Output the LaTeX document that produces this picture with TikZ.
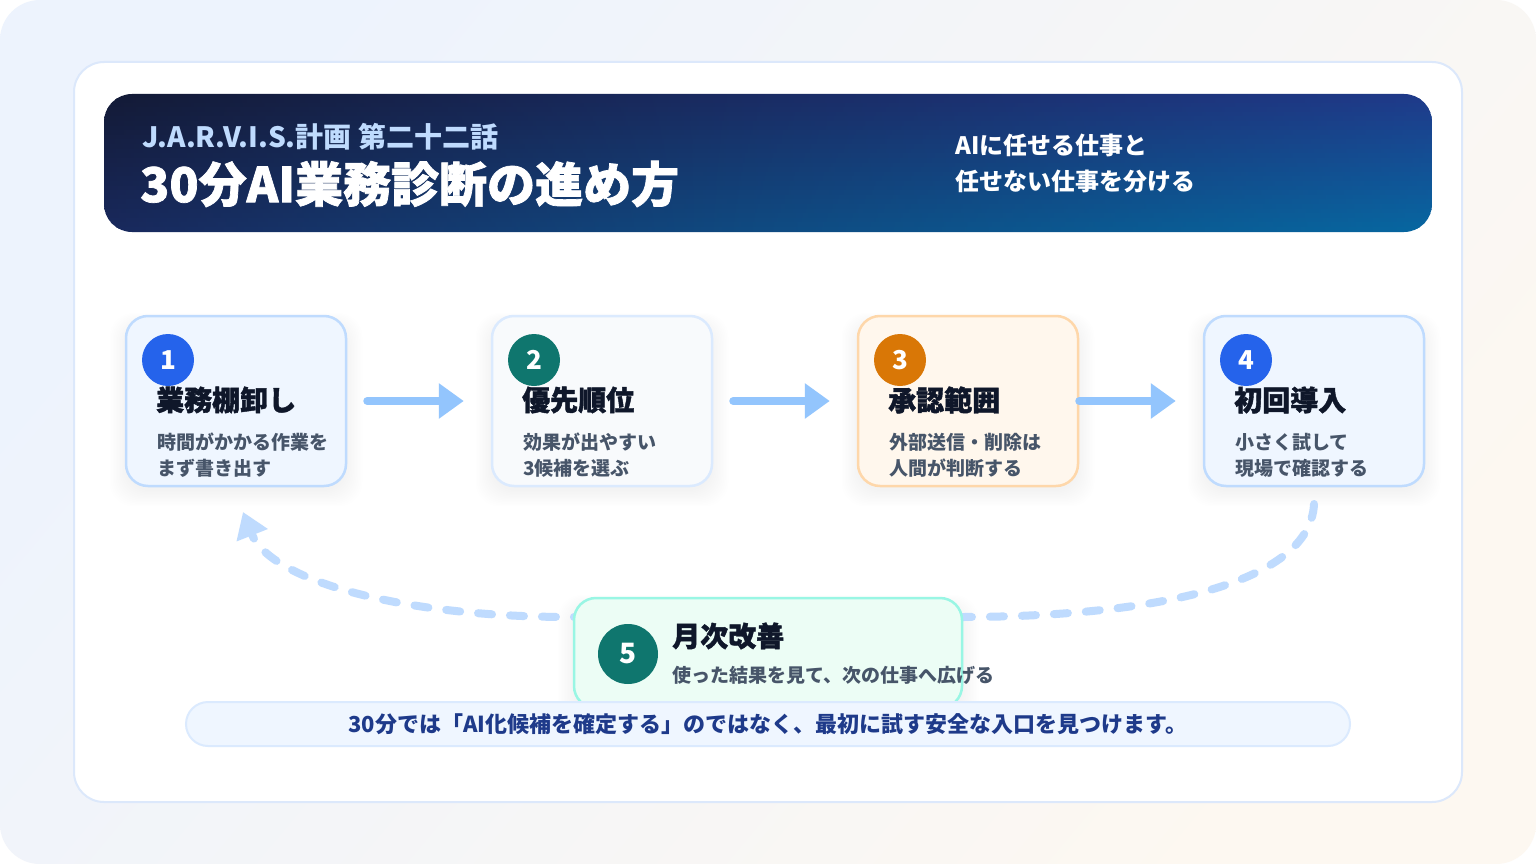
\documentclass[tikz,border=0pt]{standalone}
\usepackage{fontspec}
\setmainfont{Noto Sans CJK JP}
\newfontfamily\heavyfont{Noto Sans CJK JP}[FakeBold=1.5]
\usetikzlibrary{arrows.meta}
\definecolor{bgA}{HTML}{EDF3FD}
\definecolor{bgB}{HTML}{FDF8F1}
\definecolor{cardline}{HTML}{DCE8FB}
\definecolor{hdrA}{HTML}{131A36}
\definecolor{hdrB}{HTML}{1F3A8A}
\definecolor{hdrC}{HTML}{0766A0}
\definecolor{subc}{HTML}{BFDBFE}
\definecolor{fillA}{HTML}{EFF6FF}
\definecolor{lineA}{HTML}{BFDBFE}
\definecolor{fillB}{HTML}{F8FAFC}
\definecolor{lineB}{HTML}{DBEAFE}
\definecolor{fillC}{HTML}{FFF7ED}
\definecolor{lineC}{HTML}{FED7AA}
\definecolor{fillE}{HTML}{ECFDF5}
\definecolor{lineE}{HTML}{99F6E4}
\definecolor{numBlue}{HTML}{2563EB}
\definecolor{numTeal}{HTML}{0F766E}
\definecolor{numOrange}{HTML}{D97706}
\definecolor{ttlc}{HTML}{0F172A}
\definecolor{dscc}{HTML}{475569}
\definecolor{arrc}{HTML}{93C5FD}
\definecolor{dashc}{HTML}{BFDBFE}
\definecolor{banc}{HTML}{1E3A8A}
\begin{document}
\begin{tikzpicture}[x=1pt,y=-1pt,
  stepbox/.style={draw, line width=2.5pt, rounded corners=22pt, minimum width=220pt, minimum height=170pt, inner sep=0pt},
  numc/.style={circle, minimum size=52pt, inner sep=0pt, text=white, font=\fontsize{26}{26}\selectfont\bfseries},
  ttl/.style={anchor=west, inner sep=0pt, text=ttlc, font=\fontsize{28}{30}\selectfont\heavyfont\bfseries},
  dsc/.style={anchor=west, inner sep=0pt, text=dscc, font=\fontsize{19}{22}\selectfont\bfseries},
  flow/.style={draw=arrc, line width=8pt, line cap=round, -{Triangle[length=25pt,width=34pt]}},
  backflow/.style={draw=dashc, line width=8pt, line cap=round, dash pattern=on 14pt off 18pt, -{Triangle[length=25pt,width=32pt]}},
]
\useasboundingbox (0,0) rectangle (1536,864);
\fill[white] (0,0) rectangle (1536,864);
\shade[rounded corners=40pt, top color=bgA, bottom color=bgB, shading angle=50] (0,0) rectangle (1536,864);
% card
\node[draw=cardline, fill=white, line width=2pt, rounded corners=30pt, minimum width=1388pt, minimum height=740pt] (card) at (768,432) {};
% header background: rows of horizontal gradients
\begin{scope}
  \clip[rounded corners=28pt] (104,94) rectangle (1432,232);
  \foreach \i in {0,...,29}{
    \pgfmathtruncatemacro\p{round(\i*100/29)}
    \pgfmathtruncatemacro\q{round(\i*45/29)}
    \colorlet{rowL}{hdrB!\q!hdrA}
    \colorlet{rowR}{hdrC!\p!hdrB}
    \shade[left color=rowL, right color=rowR, middle color=rowL!45!rowR] (104,94+\i*4.6) rectangle (1432,94+\i*4.6+5.2);
  }
\end{scope}
\node[rounded corners=28pt, minimum width=1328pt, minimum height=138pt] (header) at (768,163) {};
\node[anchor=west, inner sep=0pt, text=subc, font=\fontsize{28}{30}\selectfont\bfseries] (sub) at (142,137) {J.A.R.V.I.S.計画 第二十二話};
\node[anchor=west, inner sep=0pt, text=white, font=\fontsize{48}{50}\selectfont\heavyfont\bfseries] (title) at (140,184) {30分AI業務診断の進め方};
\node[anchor=west, inner sep=0pt, text=white, font=\fontsize{24}{26}\selectfont\bfseries] (tagA) at (955,145) {AIに任せる仕事と};
\node[anchor=west, inner sep=0pt, text=white, font=\fontsize{24}{26}\selectfont\bfseries] (tagB) at (955,181) {任せない仕事を分ける};
% shadows
\foreach \cx in {236,602,968,1314}{
  \foreach \k in {0,...,11}{
    \fill[black, opacity=0.005, rounded corners=24pt] (\cx-110-\k*1.5, 401-85+8-\k) rectangle (\cx+110+\k*1.5, 401+85+5+\k*1.4);
  }
}
\foreach \k in {0,...,11}{
  \fill[black, opacity=0.005, rounded corners=24pt] (574-\k*1.5, 598+8-\k) rectangle (962+\k*1.5, 708+5+\k*1.4);
}
% steps
\node[stepbox, fill=fillA, draw=lineA] (s1) at (236,401) {};
\node[stepbox, fill=fillB, draw=lineB] (s2) at (602,401) {};
\node[stepbox, fill=fillC, draw=lineC] (s3) at (968,401) {};
\node[stepbox, fill=fillA, draw=lineA] (s4) at (1314,401) {};
\node[numc, fill=numBlue] (n1) at (168,360) {1};
\node[numc, fill=numTeal] (n2) at (534,360) {2};
\node[numc, fill=numOrange] (n3) at (900,360) {3};
\node[numc, fill=numBlue] (n4) at (1246,360) {4};
\node[ttl] (t1) at (156,400) {業務棚卸し};
\node[ttl] (t2) at (522,400) {優先順位};
\node[ttl] (t3) at (888,400) {承認範囲};
\node[ttl] (t4) at (1234,400) {初回導入};
\node[dsc] (d1a) at (157,442) {時間がかかる作業を};
\node[dsc] (d1b) at (157,468) {まず書き出す};
\node[dsc] (d2a) at (523,442) {効果が出やすい};
\node[dsc] (d2b) at (523,468) {3候補を選ぶ};
\node[dsc] (d3a) at (889,442) {外部送信・削除は};
\node[dsc] (d3b) at (889,468) {人間が判断する};
\node[dsc] (d4a) at (1235,442) {小さく試して};
\node[dsc] (d4b) at (1235,468) {現場で確認する};
% arrows
\draw[flow, shorten <=20pt, shorten >=27pt] (s1.east) -- (s2.west);
\draw[flow, shorten <=20pt, shorten >=27pt] (s2.east) -- (s3.west);
\draw[flow, shorten <=0pt, shorten >=27pt] (s3.east) -- (s4.west);
% back loop
\coordinate (ls) at (1314,504);
\coordinate (le) at (243,512);
\draw[backflow] (ls) .. controls (1310,585) and (1150,617) .. (960,617) -- (570,617) .. controls (400,617) and (270,580) .. (le);
% step 5
\node[draw=lineE, fill=fillE, line width=2.5pt, rounded corners=22pt, minimum width=388pt, minimum height=110pt] (s5) at (768,653) {};
\node[numc, fill=numTeal, minimum size=60pt, font=\fontsize{28}{28}\selectfont\bfseries] (n5) at (628,654) {5};
\node[ttl] (t5) at (672,636) {月次改善};
\node[dsc] (d5) at (672,675) {使った結果を見て、次の仕事へ広げる};
% banner
\node[draw=lineB, fill=fillA, line width=2pt, rounded corners=22pt, minimum width=1164pt, minimum height=44pt, text=banc, font=\fontsize{22}{24}\selectfont\bfseries] (banner) at (768,724) {30分では「AI化候補を確定する」のではなく、最初に試す安全な入口を見つけます。};
\end{tikzpicture}
\end{document}
